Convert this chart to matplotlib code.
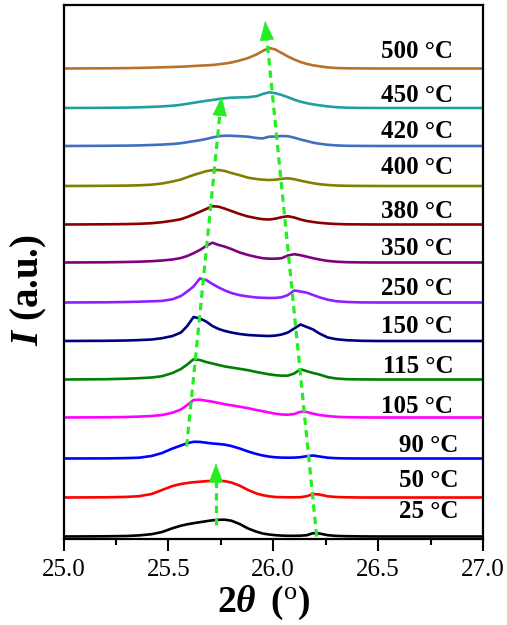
import matplotlib
matplotlib.use("Agg")
import matplotlib.pyplot as plt
import numpy as np

plt.rcParams['font.family'] = ['Liberation Serif', 'DejaVu Serif']
plt.rcParams['mathtext.fontset'] = 'custom'
plt.rcParams['mathtext.rm'] = 'Liberation Serif'
plt.rcParams['mathtext.it'] = 'Liberation Serif:italic'
plt.rcParams['mathtext.bf'] = 'Liberation Serif:bold'
plt.rcParams['mathtext.bfit'] = 'Liberation Serif:bold:italic'

# ---- data ----
two_theta = [25.0, 25.2, 25.3, 25.36, 25.42, 25.47, 25.52, 25.56, 25.59, 25.62,
             25.65, 25.68, 25.71, 25.74, 25.77, 25.80, 25.84, 25.88, 25.92, 25.95,
             25.98, 26.01, 26.04, 26.07, 26.10, 26.13, 26.16, 26.19, 26.22, 26.26,
             26.30, 26.35, 26.42, 26.5, 27.0]

temps = ['25 °C', '50 °C', '90 °C', '105 °C', '115 °C', '150 °C', '250 °C',
         '350 °C', '380 °C', '400 °C', '420 °C', '450 °C', '500 °C']

I_25 = [0, 0.2, 0.5, 1.1, 2.3, 4.5, 8.3, 10.8, 12.2, 13.3, 14.3, 15.3, 16.2, 16.7,
        16.8, 15.8, 12.5, 8, 4.8, 3, 2, 1.3, 0.9, 0.7, 0.7, 0.8, 1.3, 3.3, 3.0, 1.3,
        0.6, 0.3, 0.1, 0, 0]
I_50 = [0, 0.2, 0.6, 1.3, 3.5, 7.5, 11.5, 13.5, 14.5, 15.3, 15.8, 16.3, 16.7, 16.8,
        16.3, 15, 11.8, 7.5, 4, 2.3, 1.2, 0.5, 0.3, 0.2, 0.2, 0.3, 1.3, 3.5, 3.0, 1.2,
        0.5, 0.2, 0, 0, 0]
I_90 = [0, 0.1, 0.4, 0.8, 2.5, 5.5, 10, 13, 15.3, 16.7, 16.6, 15.8, 15, 14.5, 13.8,
        12.5, 10, 7, 4.5, 3, 1.9, 1.2, 0.9, 0.8, 0.9, 1.3, 2.3, 3.0, 2, 0.8, 0.3, 0.1,
        0, 0, 0]
I_105 = [0, 0.2, 0.5, 0.9, 1.5, 2.5, 4.8, 8, 12.5, 17.5, 17.8, 16.8, 15.8, 14.5,
         13.2, 12.2, 10.8, 9.3, 7.5, 6.3, 5, 3.8, 3, 2.8, 3.5, 5.8, 5.5, 3.8, 2.5, 1.5,
         0.7, 0.3, 0.1, 0, 0]
I_115 = [0, 0.3, 0.8, 1.3, 2, 3.3, 6.5, 10.5, 15, 20.3, 19.5, 17.5, 16, 14.5, 13,
         12, 10.7, 9.3, 7.5, 6.3, 5.2, 4.3, 3.8, 3.9, 6, 10.3, 8.3, 6.5, 5, 2.3, 1,
         0.3, 0.1, 0, 0]
I_150 = [0, 0.2, 0.5, 0.9, 1.5, 2.8, 5, 8.5, 15, 24, 22.5, 19.5, 15, 12, 10, 8.5, 7,
         6, 5.5, 5.2, 5, 5.4, 6.5, 8.5, 12.5, 16.5, 14, 11.5, 7.5, 3.5, 1.8, 0.8, 0.2,
         0, 0]
I_250 = [0, 0.2, 0.5, 0.8, 1.2, 1.6, 3.3, 6.5, 11, 16, 24, 22.5, 18.5, 15, 12, 9.5,
         7.3, 6, 5, 4.7, 4.5, 4.6, 5.2, 7.5, 12, 11, 9.8, 7.5, 5.2, 2.8, 1.3, 0.5, 0.1,
         0, 0]
I_350 = [0, 0.2, 0.5, 0.8, 1.3, 2, 3, 4.5, 6.5, 9.3, 12.5, 16.5, 19.8, 17.5, 15.8,
         13.5, 10, 7.5, 5.5, 4.3, 3.8, 3.8, 4.3, 7, 8.3, 7.3, 5.8, 4.3, 3, 1.6, 0.8,
         0.3, 0.1, 0, 0]
I_380 = [0, 0.2, 0.4, 0.7, 1.3, 2.3, 3.8, 5.3, 7.5, 10, 12.7, 15.5, 18.3, 17.8, 15.8,
         13.5, 10.5, 8, 6.3, 5.3, 5, 5.8, 7.3, 8.3, 7, 5, 3.5, 2.5, 1.7, 1, 0.5, 0.2,
         0.1, 0, 0]
I_400 = [0, 0.2, 0.4, 0.7, 1.3, 2.5, 4.5, 6.5, 8.8, 11, 12.9, 14.8, 15.8, 16, 15, 13,
         10.8, 8.3, 7, 6.3, 6, 6.3, 7.2, 7.7, 6.8, 5.3, 4, 2.8, 1.8, 1, 0.5, 0.2, 0.1,
         0, 0]
I_420 = [0, 0.2, 0.4, 0.6, 1, 1.4, 2, 2.8, 3.8, 4.8, 5.8, 7, 8.5, 9.8, 10.3, 10.2,
         9.8, 9.3, 8, 7.6, 9.3, 9.5, 10, 9.8, 8.3, 6.5, 5, 3.3, 2.3, 1.2, 0.6, 0.2, 0.1,
         0, 0]
I_450 = [0, 0.2, 0.4, 0.7, 1.1, 1.6, 2.3, 3.2, 4.2, 5.2, 6.2, 7.2, 8, 9, 9.8, 10.3,
         10.6, 10.8, 11.8, 14, 15.7, 14.8, 13, 10.8, 8.3, 6.3, 4.8, 3.6, 2.7, 1.6, 0.8,
         0.3, 0.1, 0, 0]
I_500 = [0, 0.2, 0.4, 0.6, 0.9, 1.2, 1.5, 1.8, 2.1, 2.5, 2.8, 3.2, 3.5, 4.2, 5, 6, 8,
         10.5, 14, 17.5, 20.5, 19, 15.5, 12, 9, 6.5, 4.6, 3.2, 2.2, 1.1, 0.5, 0.2, 0.1,
         0, 0]

patterns = [I_25, I_50, I_90, I_105, I_115, I_150, I_250, I_350, I_380, I_400,
            I_420, I_450, I_500]

# ---- layout / style ----
offsets = [2, 41, 80, 121, 159, 197.5, 236, 276, 314, 352.5, 392.5, 430.5, 470]
label_y = [20.2, 51.2, 86.2, 125.2, 165.8, 205.2, 243.5, 283.5, 320.2, 364.2,
           400.8, 436.8, 481]
label_x = [26.881, 26.881, 26.881] + [26.858] * 10
colors = ['#000000', '#ff0000', '#0000ff', '#ff00ff', '#008000', '#000080',
          '#8f1fff', '#800080', '#8b0000', '#808000', '#3f6fbf', '#1f9f9f',
          '#b8702a']

fig = plt.figure(figsize=(5.07, 6.25), dpi=100)
ax = fig.add_axes([63.5 / 507, 1 - 538.5 / 625, (483 - 63.5) / 507, 533.5 / 625])

x = np.array(two_theta)
for inten, off, col in zip(patterns, offsets, colors):
    ax.plot(x, np.array(inten) + off, color=col, lw=1.9, solid_joinstyle='round')

for t, lx, ly in zip(temps, label_x, label_y):
    ax.text(lx, ly, t, ha='right', va='baseline', fontsize=18, fontweight='bold')

ax.set_xlim(25.0, 27.0)
ax.set_ylim(0, 533.5)

green = '#22ee22'
arrows = [((25.727, 13.5), (25.727, 75.2)),
          ((25.587, 92.0), (25.754, 442.0)),
          ((26.207, 2.0), (25.961, 517.5))]
head_px = 18.0
for (x0, y0), (x1, y1) in arrows:
    p0 = ax.transData.transform((x0, y0))
    p1 = ax.transData.transform((x1, y1))
    d = p1 - p0
    L = np.hypot(*d)
    pb = p1 - d / L * head_px
    xb, yb = ax.transData.inverted().transform(pb)
    ax.plot([x0, xb], [y0, yb], color=green, lw=2.3, ls=(0, (2.3, 1.6)),
            dash_capstyle='butt')
    ax.annotate('', xy=(x1, y1), xytext=(xb, yb),
                arrowprops=dict(arrowstyle='-|>,head_length=0.65,head_width=0.24',
                                mutation_scale=20, color=green, lw=0.5,
                                shrinkA=0, shrinkB=0))

ax.set_xticks([25.0, 25.5, 26.0, 26.5, 27.0])
ax.set_xticklabels(['25.0', '25.5', '26.0', '26.5', '27.0'])
ax.set_xticks([25.25, 25.75, 26.25, 26.75], minor=True)
ax.set_yticks([])
ax.tick_params(axis='x', which='major', direction='out', length=8.5, width=1.5,
               labelsize=18, pad=6.5)
ax.tick_params(axis='x', which='minor', direction='out', length=4.5, width=1.5)
for s in ax.spines.values():
    s.set_linewidth(1.6)

fig.text(263 / 507, 1 - 603 / 625,
         r'$\mathbf{2}\mathbfit{\theta}\;\;\mathbf{(}^{\mathrm{o}}\mathbf{)}$',
         fontsize=27, ha='center', va='center')
fig.text(29 / 507, 1 - 290 / 625, r'$\mathbfit{I}$ (a.u.)', fontsize=28,
         fontweight='bold', rotation=90, ha='center', va='center')

fig.savefig('out.png', dpi=100)
